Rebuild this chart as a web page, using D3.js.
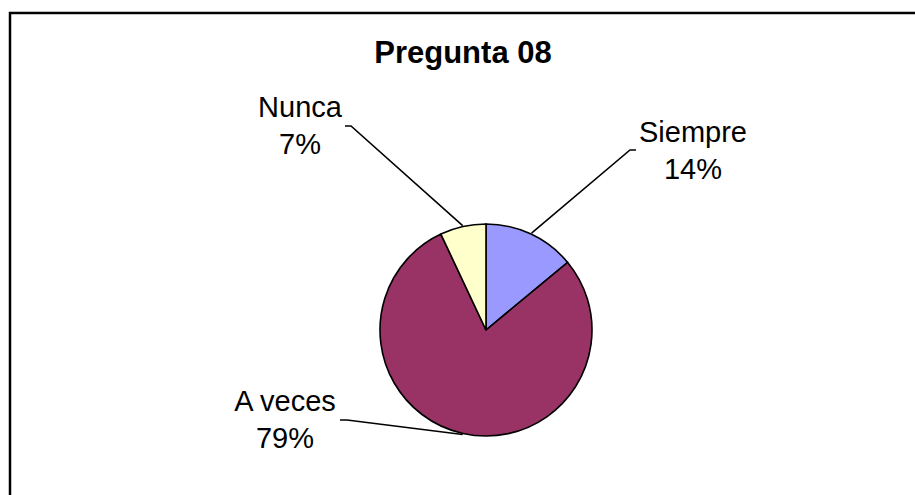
<!DOCTYPE html>
<html>
<head>
<meta charset="utf-8">
<script src="https://cdn.jsdelivr.net/npm/d3@7"></script>
<style>
  body { margin: 0; background: #fff; }
  text { font-family: Arial, "Liberation Sans", sans-serif; fill: #000; }
</style>
</head>
<body>
<div id="chart"></div>
<script>
// data
const categories = ['Siempre', 'A veces', 'Nunca'];
const values = [14, 79, 7];
const colors = ['#9999FF', '#993366', '#FFFFCC'];
const title = 'Pregunta 08';

const width = 915, height = 495;
const cx = 486, cy = 330, radius = 106;

// where each label block sits (center x, first baseline) and the leader tick
const labelPos = {
  'Siempre': {x: 693, y: 142, tick: [[636, 150], [630, 150]]},
  'A veces': {x: 285, y: 411, tick: [[340, 420], [347, 420]]},
  'Nunca':   {x: 300, y: 117, tick: [[345, 126], [351, 126]]}
};

const svg = d3.select('#chart').append('svg')
  .attr('width', width)
  .attr('height', height);

// frame (only top/left visible in the crop)
svg.append('rect')
  .attr('x', 10).attr('y', 13)
  .attr('width', 930).attr('height', 520)
  .attr('fill', 'none')
  .attr('stroke', '#000')
  .attr('stroke-width', 2.5);

svg.append('text')
  .attr('x', 463).attr('y', 63)
  .attr('text-anchor', 'middle')
  .style('font-size', '31px')
  .style('font-weight', 'bold')
  .text(title);

const data = categories.map((c, i) => ({name: c, value: values[i], color: colors[i]}));

const pie = d3.pie().sort(null).value(d => d.value);
const arc = d3.arc().innerRadius(0).outerRadius(radius);
const arcs = pie(data);

const g = svg.append('g').attr('transform', `translate(${cx},${cy})`);

g.selectAll('path.slice')
  .data(arcs)
  .enter()
  .append('path')
  .attr('class', 'slice')
  .attr('d', arc)
  .attr('fill', d => d.data.color)
  .attr('stroke', '#000')
  .attr('stroke-width', 1.6);

// leader lines: from label tick to slice edge at mid angle
arcs.forEach(d => {
  const lp = labelPos[d.data.name];
  const mid = (d.startAngle + d.endAngle) / 2;
  const ex = cx + Math.sin(mid) * (radius + 1);
  const ey = cy - Math.cos(mid) * (radius + 1);
  const pts = [lp.tick[0], lp.tick[1], [ex, ey]];
  svg.append('path')
    .attr('d', d3.line()(pts))
    .attr('fill', 'none')
    .attr('stroke', '#000')
    .attr('stroke-width', 1.6);

  const t = svg.append('text')
    .attr('text-anchor', 'middle')
    .style('font-size', '29px');
  t.append('tspan').attr('x', lp.x).attr('y', lp.y).text(d.data.name);
  t.append('tspan').attr('x', lp.x).attr('y', lp.y + 37).text(d3.format('.0f')(d.data.value) + '%');
});
</script>
</body>
</html>
